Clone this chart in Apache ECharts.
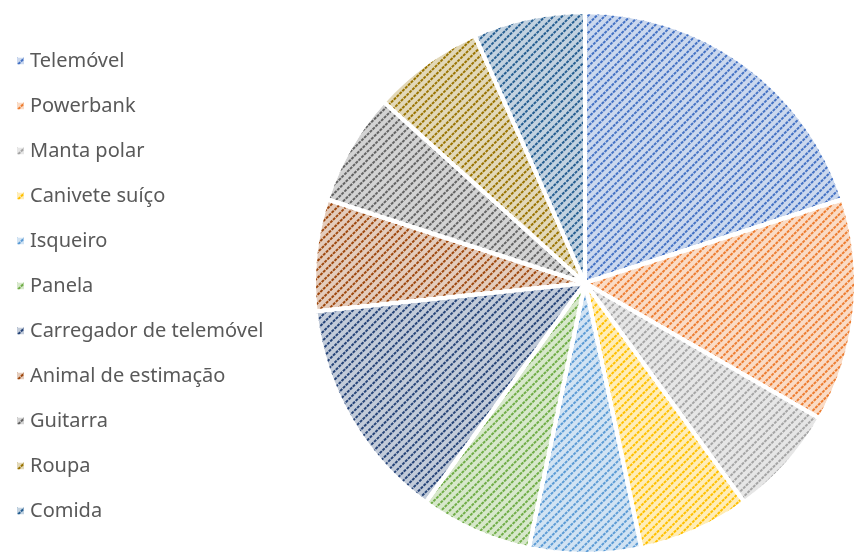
<!DOCTYPE html>
<html><head><meta charset="utf-8">
<script src="https://cdn.jsdelivr.net/npm/echarts@6/dist/echarts.min.js"></script>
<style>html,body{margin:0;padding:0;background:#fff}#c{width:854px;height:558px}</style>
</head><body><div id="c"></div>
<script>
const categories = ["Telemóvel","Powerbank","Manta polar","Canivete suíço","Isqueiro","Panela","Carregador de telemóvel","Animal de estimação","Guitarra","Roupa","Comida"];
const values = [3,2,1,1,1,1,2,1,1,1,1];
const colors = ["#4472C4","#ED7D31","#A5A5A5","#FFC000","#5B9BD5","#70AD47","#264478","#9E480E","#636363","#997300","#255E91"];

function tint(hex, f){
  const n=parseInt(hex.slice(1),16);
  const r=(n>>16)&255,g=(n>>8)&255,b=n&255;
  const m=c=>Math.round(c+(255-c)*f);
  return `rgb(${m(r)},${m(g)},${m(b)})`;
}

const data = categories.map((name,i)=>({
  name, value: values[i],
  itemStyle:{
    color: tint(colors[i],0.72),
    decal:{symbol:'rect',symbolSize:1,dashArrayX:[[3,1]],dashArrayY:[2,4],rotation:-Math.PI/4,color:colors[i]}
  }
}));

const chart = echarts.init(document.getElementById('c'),null,{renderer:'canvas'});
chart.setOption({
  animation:false,
  color: colors,
  legend:{
    orient:'vertical', left:10, top:45,
    itemWidth:9, itemHeight:9, itemGap:23,
    icon:'rect',
    textStyle:{fontFamily:'Noto Sans',fontSize:20,color:'#595959',lineHeight:22,padding:[0,0,0,0]},
    data: categories
  },
  series:[{
    type:'pie', center:[585,283], radius:[0,271],
    startAngle:90, clockwise:true,
    label:{show:false}, labelLine:{show:false},
    itemStyle:{borderColor:'#fff',borderWidth:4},
    emphasis:{disabled:true},
    data
  }]
});
</script></body></html>
